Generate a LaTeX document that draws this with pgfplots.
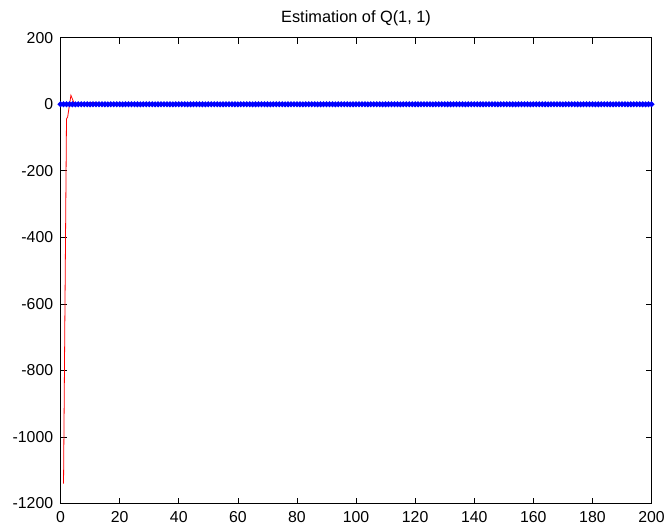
\documentclass[border=0pt]{standalone}
\usepackage{pgfplots}
\pgfplotsset{compat=1.18}
\usepackage{fontspec}
\setmainfont{Liberation Sans}
\begin{document}
\fontsize{16}{18}\selectfont
\begin{tikzpicture}[x=1bp,y=1bp]
\begin{axis}[
  name=ax,
  scale only axis,
  width=595bp, height=469bp,
  xmin=0, xmax=200, ymin=-1200, ymax=200,
  xtick={0,20,...,200},
  ytick={-1200,-1000,-800,-600,-400,-200,0,200},
  tick align=inside,
  major tick length=6bp,
  tick style={black, line width=0.7bp},
  axis line style={black, line width=1bp},
  /pgf/number format/assume math mode=true,
  /pgf/number format/1000 sep={},
  ticklabel style={font=\fontsize{16}{18}\selectfont},
  yticklabel style={xshift=-2bp},
  xticklabel style={yshift=-2bp},
  title={Estimation of Q(1, 1)},
  title style={font=\fontsize{16.5}{18}\selectfont, yshift=0bp},
  clip=true,
]
\addplot[red, line width=0.8bp] coordinates {
(1,-1140)(2,-44)(2.4,-38)(3.5,27)(4.4,7)(5,1)(6,0)(8,2)(10,5)(12,5)(14,1)(16,0)(50,0)(100,0)(150,0)(200,0)
};
\addplot[blue, line width=2.2bp, mark=*, mark size=1.6bp, mark options={blue}] coordinates {
(0,0)(1,0)(2,0)(3,0)(4,0)(5,0)(6,0)(7,0)(8,0)(9,0)(10,0)(11,0)(12,0)(13,0)(14,0)(15,0)(16,0)(17,0)(18,0)(19,0)(20,0)
(21,0)(22,0)(23,0)(24,0)(25,0)(26,0)(27,0)(28,0)(29,0)(30,0)(31,0)(32,0)(33,0)(34,0)(35,0)(36,0)(37,0)(38,0)(39,0)(40,0)
(41,0)(42,0)(43,0)(44,0)(45,0)(46,0)(47,0)(48,0)(49,0)(50,0)(51,0)(52,0)(53,0)(54,0)(55,0)(56,0)(57,0)(58,0)(59,0)(60,0)
(61,0)(62,0)(63,0)(64,0)(65,0)(66,0)(67,0)(68,0)(69,0)(70,0)(71,0)(72,0)(73,0)(74,0)(75,0)(76,0)(77,0)(78,0)(79,0)(80,0)
(81,0)(82,0)(83,0)(84,0)(85,0)(86,0)(87,0)(88,0)(89,0)(90,0)(91,0)(92,0)(93,0)(94,0)(95,0)(96,0)(97,0)(98,0)(99,0)(100,0)
(101,0)(102,0)(103,0)(104,0)(105,0)(106,0)(107,0)(108,0)(109,0)(110,0)(111,0)(112,0)(113,0)(114,0)(115,0)(116,0)(117,0)(118,0)(119,0)(120,0)
(121,0)(122,0)(123,0)(124,0)(125,0)(126,0)(127,0)(128,0)(129,0)(130,0)(131,0)(132,0)(133,0)(134,0)(135,0)(136,0)(137,0)(138,0)(139,0)(140,0)
(141,0)(142,0)(143,0)(144,0)(145,0)(146,0)(147,0)(148,0)(149,0)(150,0)(151,0)(152,0)(153,0)(154,0)(155,0)(156,0)(157,0)(158,0)(159,0)(160,0)
(161,0)(162,0)(163,0)(164,0)(165,0)(166,0)(167,0)(168,0)(169,0)(170,0)(171,0)(172,0)(173,0)(174,0)(175,0)(176,0)(177,0)(178,0)(179,0)(180,0)
(181,0)(182,0)(183,0)(184,0)(185,0)(186,0)(187,0)(188,0)(189,0)(190,0)(191,0)(192,0)(193,0)(194,0)(195,0)(196,0)(197,0)(198,0)(199,0)(200,0)
};
\end{axis}
\path ([shift={(-61bp,-28bp)}]ax.south west) rectangle ([shift={(14bp,38bp)}]ax.north east);
\end{tikzpicture}
\end{document}
